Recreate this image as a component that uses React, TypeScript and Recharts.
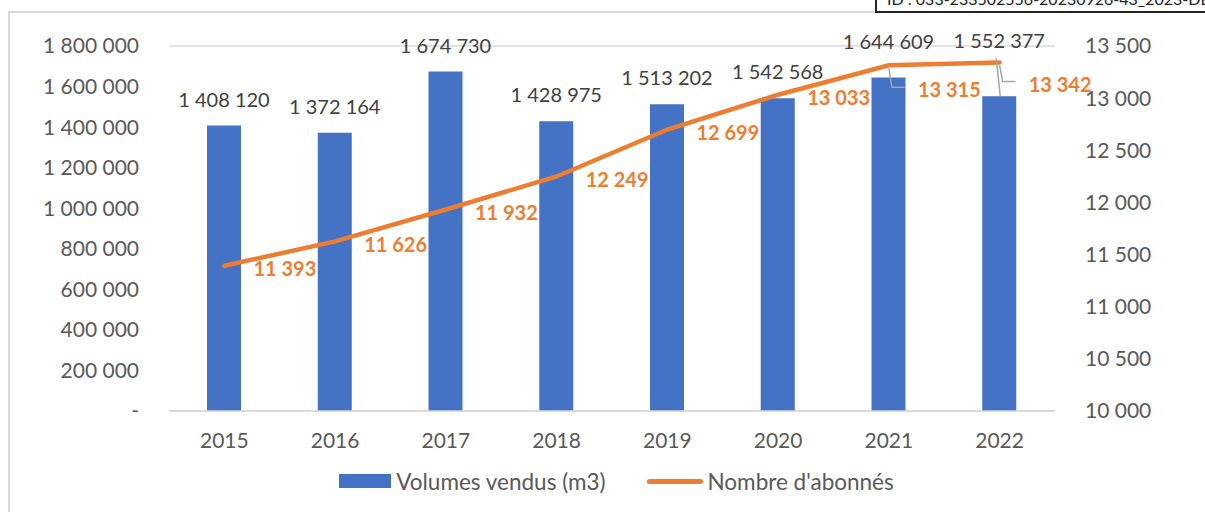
import { ComposedChart, Bar, Line, XAxis, YAxis, CartesianGrid, Legend, LabelList } from 'recharts';

const years = ['2015', '2016', '2017', '2018', '2019', '2020', '2021', '2022'];
const volumes = [1408120, 1372164, 1674730, 1428975, 1513202, 1542568, 1644609, 1552377];
const subscribers = [11393, 11626, 11932, 12249, 12699, 13033, 13315, 13342];
const volumeTicks = [0, 200000, 400000, 600000, 800000, 1000000, 1200000, 1400000, 1600000, 1800000];
const subscriberTicks = [10000, 10500, 11000, 11500, 12000, 12500, 13000, 13500];

const data = years.map((year, i) => ({ year, volume: volumes[i], subs: subscribers[i] }));

const FONT = 'Lato, "Open Sans", sans-serif';
const BLUE = '#4472C4';
const ORANGE = '#ED7D31';
const GRID = '#D9D9D9';

// extra lift for bar labels that collide with the line (last two)
const barLabelLift = [0, 0, 0, 0, 0, 0, 10, 29];
// drop for line labels that get a leader line
const lineLabelDrop = [0, 0, 0, 0, 0, 0, 22, 19];

const fmt = (v: number) => (v === 0 ? '-' : v.toLocaleString('en-US').replace(/,/g, ' '));

function BarValueLabel(props: any) {
  const { x, y, width, value, index } = props;
  const cx = x + width / 2;
  const lift = barLabelLift[index] || 0;
  return (
    <g>
      {index === 7 && <line x1={cx + 1} y1={y} x2={cx - 3} y2={y - 38} stroke="#A6A6A6" strokeWidth={1.5} />}
      <text x={cx} y={y - 26 - lift} dy="0.355em" textAnchor="middle" fontFamily={FONT} fontSize={20} fill="#404040">
        {fmt(value)}
      </text>
    </g>
  );
}

function LineValueLabel(props: any) {
  const { x, y, value, index } = props;
  const drop = lineLabelDrop[index] || 0;
  return (
    <g>
      {drop > 0 && (
        <polyline
          points={`${x},${y + 3} ${x + 3},${y + drop} ${x + 16},${y + drop}`}
          fill="none"
          stroke="#A6A6A6"
          strokeWidth={1.5}
        />
      )}
      <text x={x + 29} y={y + 3 + drop} dy="0.355em" textAnchor="start" fontFamily={FONT} fontSize={20} fontWeight={700} fill={ORANGE}>
        {fmt(value)}
      </text>
    </g>
  );
}

function ChartLegend() {
  return (
    <div style={{ display: 'flex', justifyContent: 'center', alignItems: 'center', height: 40, paddingLeft: 28, fontFamily: FONT, fontSize: 22.5, color: '#595959' }}>
      <span style={{ display: 'inline-block', width: 52, height: 14, background: BLUE, marginRight: 5 }} />
      <span style={{ marginRight: 41 }}>Volumes vendus (m3)</span>
      <span style={{ display: 'inline-block', width: 56, height: 5, borderRadius: 3, background: ORANGE, marginRight: 5 }} />
      <span>Nombre d'abonnés</span>
    </div>
  );
}

export default function App() {
  return (
    <div style={{ position: 'fixed', left: 0, top: 0, width: 1205, height: 512, overflow: 'hidden', background: '#fff' }}>
      <div style={{ position: 'absolute', left: 8, top: 11, width: 1400, height: 700, borderLeft: `2px solid ${GRID}`, borderTop: `2px solid ${GRID}` }} />
      <div
        style={{
          position: 'absolute',
          left: 875,
          top: -12,
          width: 420,
          height: 21,
          border: '2px solid #222',
          background: '#fff',
          fontFamily: FONT,
          fontSize: 16,
          lineHeight: '18px',
          paddingLeft: 10,
          color: '#222',
          whiteSpace: 'nowrap',
        }}
      >
        ID : 033-233502556-20230926-43_2023-DE
      </div>
      <ComposedChart
        width={1205}
        height={512}
        data={data}
        margin={{ top: 46, right: 0, bottom: 11, left: 0 }}
        style={{ position: 'absolute', left: 0, top: 0 }}
      >
        <CartesianGrid vertical={false} stroke={GRID} strokeWidth={1.5} />
        <XAxis
          dataKey="year"
          height={50}
          tickLine={false}
          axisLine={{ stroke: GRID, strokeWidth: 1.5 }}
          tickMargin={16}
          tick={{ fontFamily: FONT, fontSize: 21, fill: '#595959' }}
        />
        <YAxis
          yAxisId="left"
          width={169}
          domain={[0, 1800000]}
          ticks={volumeTicks}
          tickFormatter={fmt}
          axisLine={false}
          tickLine={false}
          tickMargin={24}
          tick={{ fontFamily: FONT, fontSize: 21, fill: '#595959' }}
        />
        <YAxis
          yAxisId="right"
          orientation="right"
          width={150}
          domain={[10000, 13500]}
          ticks={subscriberTicks}
          tickFormatter={fmt}
          axisLine={false}
          tickLine={false}
          tickMargin={24}
          tick={{ fontFamily: FONT, fontSize: 21, fill: '#595959' }}
        />
        <Legend verticalAlign="bottom" content={<ChartLegend />} wrapperStyle={{ height: 40 }} />
        <Bar yAxisId="left" dataKey="volume" name="Volumes vendus (m3)" fill={BLUE} barSize={34} isAnimationActive={false}>
          <LabelList dataKey="volume" content={<BarValueLabel />} />
        </Bar>
        <Line
          yAxisId="right"
          type="linear"
          dataKey="subs"
          name="Nombre d'abonnés"
          stroke={ORANGE}
          strokeWidth={4.5}
          strokeLinecap="round"
          dot={false}
          isAnimationActive={false}
        >
          <LabelList dataKey="subs" content={<LineValueLabel />} />
        </Line>
      </ComposedChart>
    </div>
  );
}
